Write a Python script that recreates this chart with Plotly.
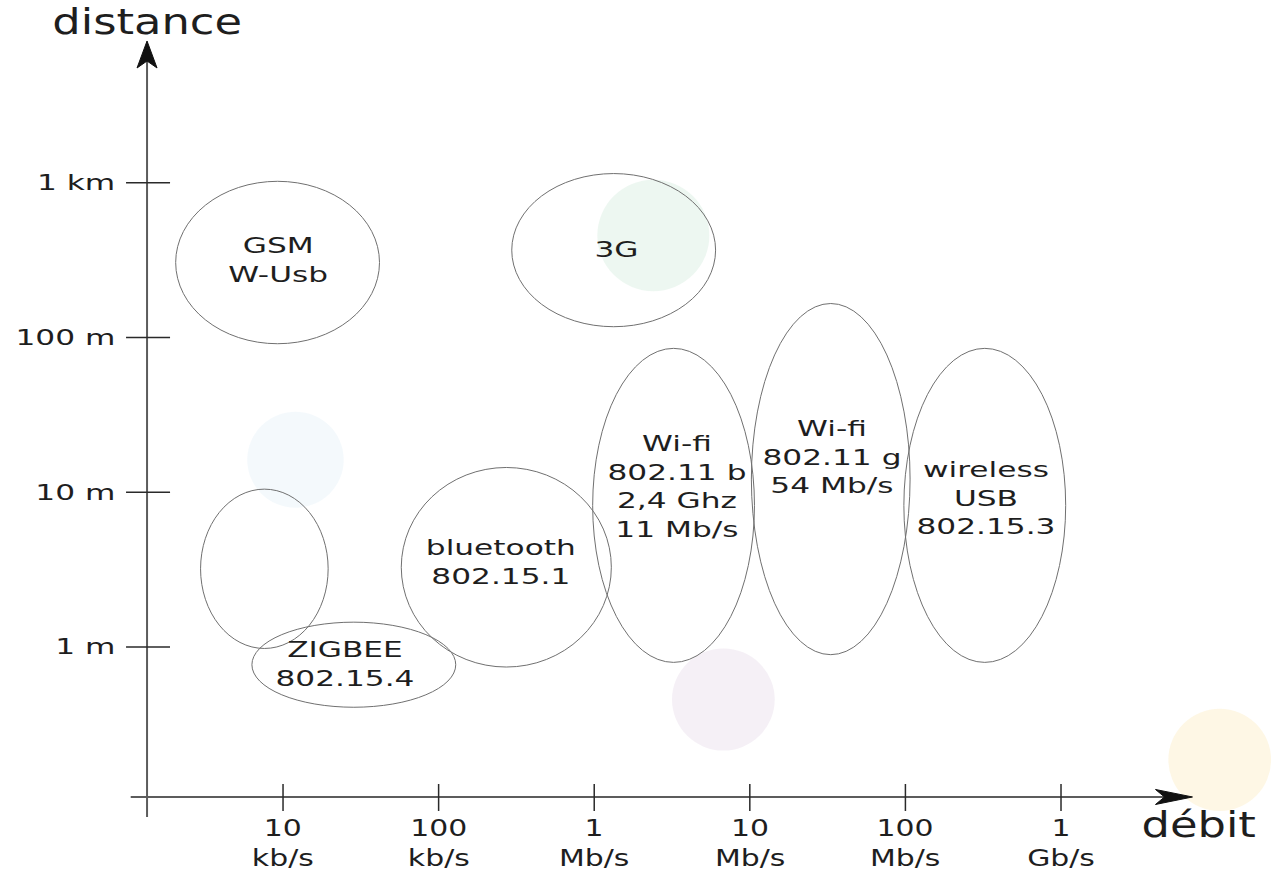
import plotly.graph_objects as go

# ---- data (log10 units: débit in kb/s, distance in m) ----
technologies = ["GSM<br>W-Usb", "3G", "", "ZIGBEE<br>802.15.4", "bluetooth<br>802.15.1",
                "Wi-fi<br>802.11 b<br>2,4 Ghz<br>11 Mb/s", "Wi-fi<br>802.11 g<br>54 Mb/s",
                "wireless<br>USB<br>802.15.3"]
debit_min_log = [0.31, 2.47, 0.47, 0.80, 1.76, 2.99, 4.01, 4.99]
debit_max_log = [1.62, 3.78, 1.29, 2.11, 3.11, 4.03, 5.03, 6.03]
distance_min_log = [1.96, 2.07, -0.01, -0.39, -0.13, -0.10, -0.05, -0.10]
distance_max_log = [3.01, 3.06, 1.02, 0.16, 1.16, 1.93, 2.22, 1.93]
label_debit_log = [0.97, 3.14, None, 1.40, 2.40, 3.53, 4.53, 5.52]
label_distance_log = [2.50, 2.57, None, -0.11, 0.55, 1.04, 1.23, 0.96]

x_tick_vals = [1, 2, 3, 4, 5, 6]
x_tick_text = ["10<br>kb/s", "100<br>kb/s", "1<br>Mb/s", "10<br>Mb/s", "100<br>Mb/s", "1<br>Gb/s"]
y_tick_vals = [3, 2, 1, 0]
y_tick_text = ["1 km", "100 m", "10 m", "1 m"]

# ---- layout constants ----
X_RANGE = [-0.819, 7.446]
Y_RANGE = [-1.455, 4.182]
AXIS_X = 0.126      # where the vertical axis sits (log kb/s)
AXIS_Y = -0.970     # where the horizontal axis sits (log m)
X_END = 6.845
Y_END = 3.917
FONT = "DejaVu Sans"
AXIS_COL = "#5c5c5c"
TEXT_COL = "#1e1e1e"

fig = go.Figure()

# faint decorative background nodes
bg_nodes = [(3.38, 2.66, 0.36, 0.36, "rgba(200,230,212,0.32)"),
            (3.83, -0.34, 0.33, 0.33, "rgba(230,215,232,0.38)"),
            (7.02, -0.73, 0.33, 0.33, "rgba(253,236,190,0.40)"),
            (1.08, 1.21, 0.31, 0.31, "rgba(215,232,245,0.28)")]
for cx, cy, rx, ry, col in bg_nodes:
    fig.add_shape(type="circle", x0=cx - rx, x1=cx + rx, y0=cy - ry, y1=cy + ry,
                  line=dict(width=0), fillcolor=col, layer="below")

# ellipses
for x0, x1, y0, y1 in zip(debit_min_log, debit_max_log, distance_min_log, distance_max_log):
    fig.add_shape(type="circle", x0=x0, x1=x1, y0=y0, y1=y1,
                  line=dict(color="#707070", width=1))

# labels
for t, x, y in zip(technologies, label_debit_log, label_distance_log):
    if x is None:
        continue
    fig.add_annotation(x=x, y=y, text=t, showarrow=False, xanchor="center", yanchor="middle",
                       font=dict(family=FONT, size=22, color=TEXT_COL))

# axes lines
fig.add_shape(type="line", x0=AXIS_X - 0.105, x1=X_END - 0.12, y0=AXIS_Y, y1=AXIS_Y,
              line=dict(color=AXIS_COL, width=2))
fig.add_shape(type="line", x0=AXIS_X, x1=AXIS_X, y0=AXIS_Y - 0.13, y1=Y_END - 0.12,
              line=dict(color=AXIS_COL, width=2))
# arrowheads (pixel-sized paths anchored at the axis ends)
fig.add_shape(type="path", xsizemode="pixel", ysizemode="pixel", xanchor=X_END, yanchor=AXIS_Y,
              path="M0,0 L-37,7.5 L-28,0 L-37,-7.5 Z", fillcolor="#111111",
              line=dict(color="#111111", width=1))
fig.add_shape(type="path", xsizemode="pixel", ysizemode="pixel", xanchor=AXIS_X, yanchor=Y_END,
              path="M0,0 L-10,-27 L0,-20 L10,-27 Z", fillcolor="#111111",
              line=dict(color="#111111", width=1))

# ticks
for v in x_tick_vals:
    fig.add_shape(type="line", xsizemode="pixel", ysizemode="pixel",
                  xanchor=v, yanchor=AXIS_Y, x0=0, x1=0, y0=-14, y1=13,
                  line=dict(color="#2a2a2a", width=1.5))
for v in y_tick_vals:
    fig.add_shape(type="line", xsizemode="pixel", ysizemode="pixel",
                  xanchor=AXIS_X, yanchor=v, x0=-21, x1=23, y0=0, y1=0,
                  line=dict(color="#2a2a2a", width=1.5))

# tick labels
for v, t in zip(x_tick_vals, x_tick_text):
    fig.add_annotation(x=v, y=AXIS_Y, text=t, showarrow=False, yanchor="top", yshift=-16,
                       font=dict(family=FONT, size=23, color=TEXT_COL))
for v, t in zip(y_tick_vals, y_tick_text):
    fig.add_annotation(x=AXIS_X, y=v, text=t, showarrow=False, xanchor="right", align="right",
                       xshift=-30, font=dict(family=FONT, size=22, color=TEXT_COL))

# axis titles
fig.add_annotation(x=AXIS_X, y=Y_END, text="distance", showarrow=False, yanchor="bottom",
                   yshift=-3, font=dict(family=FONT, size=35, color=TEXT_COL))
fig.add_annotation(x=X_END + 0.04, y=AXIS_Y, text="débit", showarrow=False, yanchor="top",
                   yshift=-6, font=dict(family=FONT, size=35, color=TEXT_COL))

fig.update_xaxes(range=X_RANGE, visible=False, fixedrange=True)
fig.update_yaxes(range=Y_RANGE, visible=False, fixedrange=True)
fig.update_layout(width=1286, height=872, margin=dict(l=0, r=0, t=0, b=0),
                  plot_bgcolor="white", paper_bgcolor="white", showlegend=False)

# the reference lettering is horizontally widened; reproduce that with a scaleX on the text
post = """
document.body.style.margin='0';
document.querySelectorAll('g.annotation-text-g text').forEach(function(t){
  var fs = parseFloat(t.style.fontSize);
  var s = fs >= 30 ? 1.28 : (fs >= 23 ? 1.30 : 1.42);
  var anchor = t.getAttribute('text-anchor');
  t.style.transformBox = 'fill-box';
  t.style.transformOrigin = (anchor === 'end' ? 'right' : 'center') + ' center';
  t.style.transform = 'scaleX(' + s + ')';
});
"""
fig.write_html("out.html", config={"displayModeBar": False}, post_script=post)
